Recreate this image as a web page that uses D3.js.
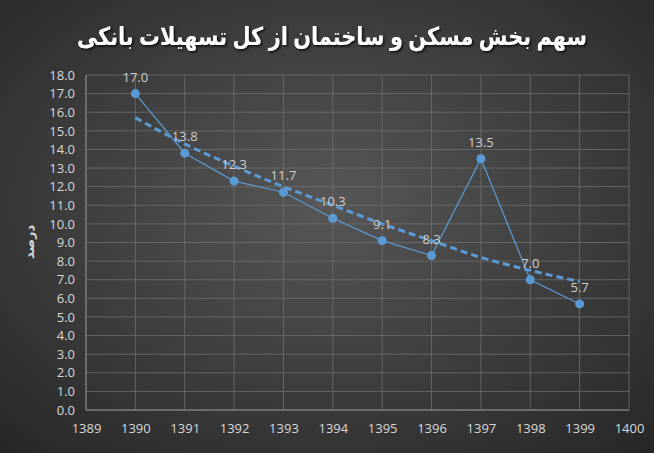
<!DOCTYPE html>
<html><head><meta charset="utf-8">
<script src="https://cdn.jsdelivr.net/npm/d3@7"></script>
<style>body{margin:0;background:#333}</style></head>
<body><svg id="c" width="654" height="453"></svg>
<script>
const years = [1390,1391,1392,1393,1394,1395,1396,1397,1398,1399];
const values = [17.0,13.8,12.3,11.7,10.3,9.1,8.3,13.5,7.0,5.7];
const trend = [15.7,14.3,13.1,12.0,11.0,10.0,9.1,8.2,7.5,6.9];
const yTicks = d3.range(0,18.01,1);
const xTicks = d3.range(1389,1401,1);
const title = "سهم بخش مسکن و ساختمان از کل تسهیلات بانکی";

const svg = d3.select("#c");
const defs = svg.append("defs");
const g = defs.append("radialGradient").attr("id","bg").attr("cx","50%").attr("cy","45%").attr("r","75%");
g.append("stop").attr("offset","0%").attr("stop-color","#575757");
g.append("stop").attr("offset","100%").attr("stop-color","#262626");
const f = defs.append("filter").attr("id","sh");
f.append("feDropShadow").attr("dx",1.5).attr("dy",1.5).attr("stdDeviation",1).attr("flood-color","#000").attr("flood-opacity",0.8);
svg.append("rect").attr("width",654).attr("height",453).attr("fill","url(#bg)");

const x = d3.scaleLinear().domain([1389,1400]).range([86,629]);
const y = d3.scaleLinear().domain([0,18]).range([410,75]);

const grid = svg.append("g").attr("stroke","#6e6e6e").attr("stroke-width",0.8);
yTicks.forEach(t=>grid.append("line").attr("x1",86).attr("x2",629).attr("y1",y(t)).attr("y2",y(t)));
xTicks.forEach(t=>grid.append("line").attr("y1",75).attr("y2",410).attr("x1",x(t)).attr("x2",x(t)));
svg.append("line").attr("x1",86).attr("x2",86).attr("y1",75).attr("y2",410).attr("stroke","#8a8a8a");
svg.append("line").attr("x1",86).attr("x2",629).attr("y1",410).attr("y2",410).attr("stroke","#8a8a8a");

const ya = svg.append("g").attr("transform","translate(78,0)")
 .call(d3.axisLeft(y).tickValues(yTicks).tickFormat(d3.format(".1f")).tickSize(0));
const xa = svg.append("g").attr("transform","translate(0,421)")
 .call(d3.axisBottom(x).tickValues(xTicks).tickFormat(d=>d).tickSize(0));
[ya,xa].forEach(a=>{a.select(".domain").remove();a.selectAll("text").attr("fill","#d9d9d9").attr("font-size",13).attr("font-family","Open Sans, sans-serif");});

svg.append("path").datum(years.map((d,i)=>[d,trend[i]]))
 .attr("d",d3.line().x(d=>x(d[0])).y(d=>y(d[1])).curve(d3.curveMonotoneX))
 .attr("fill","none").attr("stroke","#5b9bd5").attr("stroke-width",3).attr("stroke-dasharray","7,4");
svg.append("path").datum(years.map((d,i)=>[d,values[i]]))
 .attr("d",d3.line().x(d=>x(d[0])).y(d=>y(d[1])))
 .attr("fill","none").attr("stroke","#5b9bd5").attr("stroke-width",1.2);
svg.selectAll("circle.p").data(values).enter().append("circle")
 .attr("cx",(d,i)=>x(years[i])).attr("cy",d=>y(d)).attr("r",4.5).attr("fill","#5b9bd5");
svg.selectAll("text.l").data(values).enter().append("text")
 .attr("x",(d,i)=>x(years[i])).attr("y",d=>y(d)-12).attr("text-anchor","middle")
 .attr("fill","#cfcfcf").attr("font-size",13).attr("font-family","Open Sans, sans-serif").text(d=>d.toFixed(1));

svg.append("text").attr("x",332).attr("y",45).attr("text-anchor","middle").attr("direction","rtl")
 .attr("fill","#fff").attr("font-size",25).attr("font-weight","bold").attr("font-family","Noto Sans, DejaVu Sans, sans-serif")
 .attr("textLength",510).attr("lengthAdjust","spacingAndGlyphs")
 .attr("filter","url(#sh)").text(title);
svg.append("text").attr("transform","translate(34,242) rotate(-90)").attr("text-anchor","middle")
 .attr("fill","#d9d9d9").attr("font-size",13).attr("font-weight","bold").attr("font-family","DejaVu Sans, sans-serif").text("درصد");
</script></body></html>
